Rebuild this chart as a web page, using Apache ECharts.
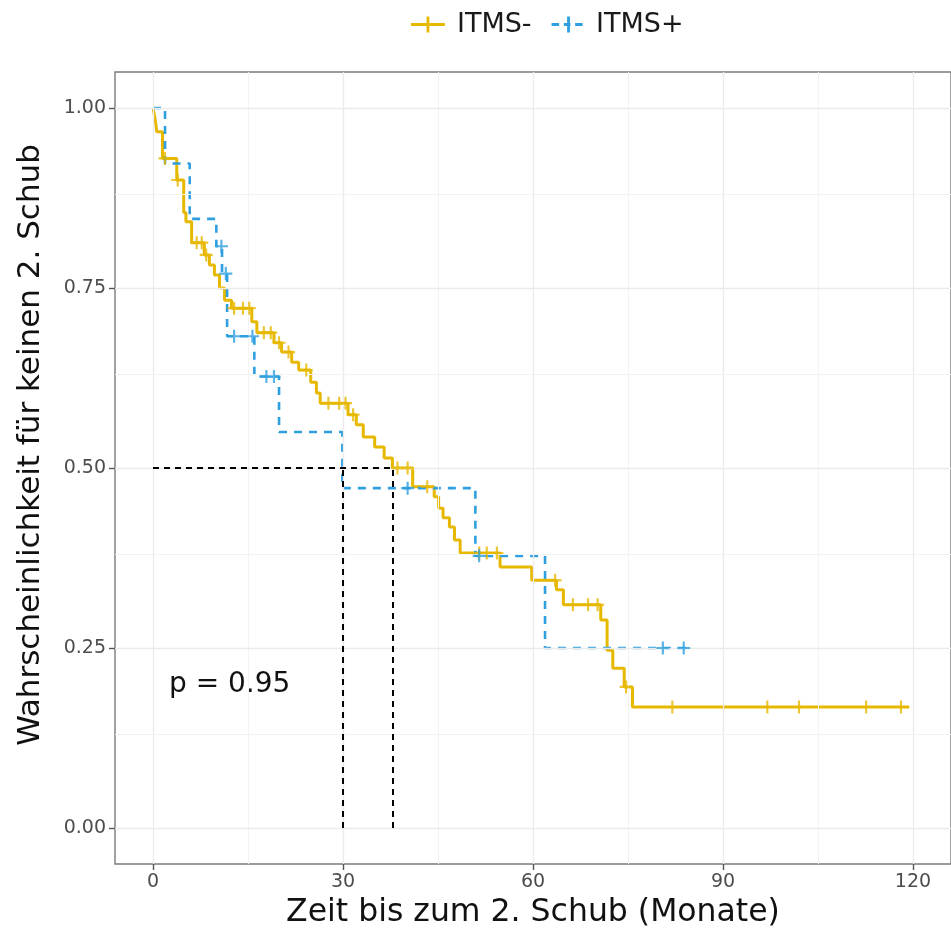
<!DOCTYPE html>
<html>
<head>
<meta charset="utf-8">
<script src="https://cdn.jsdelivr.net/npm/echarts@6/dist/echarts.min.js"></script>
<style>
html,body{margin:0;padding:0;background:#fff;}
#chart{width:951px;height:935px;}
</style>
</head>
<body>
<div id="chart"></div>
<script>
// ---- data ----
const seriesNames = ['ITMS-', 'ITMS+'];
// ITMS- Kaplan-Meier steps: time (months) and survival after the step
const negTimes = [0, 0.3, 0.6, 1.5, 3.75, 4.85, 5.2, 6.1, 8.1, 8.9, 9.7, 10.5, 11.3, 12.4, 15.6, 16.4, 19.1, 20.3, 21.9, 23.0, 24.9, 25.8, 26.4, 30.8, 32.1, 33.2, 35.0, 36.5, 37.8, 41.0, 44.4, 45.1, 45.8, 46.8, 47.6, 48.5, 54.8, 59.8, 63.7, 64.8, 70.7, 71.7, 72.6, 74.4, 75.7, 119.4];
const negSurv  = [1.0, 0.987, 0.967, 0.93, 0.90, 0.855, 0.842, 0.813, 0.796, 0.782, 0.768, 0.75, 0.733, 0.722, 0.703, 0.688, 0.674, 0.661, 0.647, 0.636, 0.619, 0.604, 0.59, 0.574, 0.56, 0.543, 0.529, 0.514, 0.50, 0.474, 0.46, 0.444, 0.431, 0.418, 0.40, 0.382, 0.3625, 0.344, 0.331, 0.31, 0.289, 0.247, 0.222, 0.196, 0.168, 0.168];
const negCensor = [1.9, 3.9, 6.9, 7.7, 8.4, 12.8, 14.2, 15.2, 17.5, 18.6, 19.9, 21.4, 24.2, 27.7, 29.4, 30.4, 31.6, 38.6, 40.2, 43.3, 51.5, 52.7, 54.3, 63.5, 66.3, 68.7, 70.2, 74.7, 82.0, 97.0, 102.0, 112.6, 118.1];
// ITMS+ Kaplan-Meier steps
const posTimes = [0, 1.9, 5.8, 10.0, 10.9, 11.7, 16.0, 19.9, 29.9, 50.9, 61.9, 84.6];
const posSurv  = [1.0, 0.923, 0.846, 0.808, 0.77, 0.683, 0.627, 0.55, 0.472, 0.378, 0.25, 0.25];
const posCensor = [10.8, 11.5, 12.8, 15.7, 17.9, 19.1, 40.2, 51.5, 80.5, 83.8];
// median lines
const medianLevel = 0.5;
const medianTimes = [29.9, 37.8];
const pText = 'p = 0.95';
const xTitle = 'Zeit bis zum 2. Schub (Monate)';
const yTitle = 'Wahrscheinlichkeit für keinen 2. Schub';
// axis ticks
const xTicks = [0, 30, 60, 90, 120];
const xMinor = [15, 45, 75, 105];
const yTicks = [0, 0.25, 0.5, 0.75, 1.0];
const yMinor = [0.125, 0.375, 0.625, 0.875];

const colors = ['#E7B800', '#2E9FDF'];

function stepValue(times, surv, t) {
  let v = surv[0];
  for (let i = 0; i < times.length; i++) { if (times[i] <= t) v = surv[i]; }
  return v;
}
const negLine = negTimes.map((t, i) => [t, negSurv[i]]);
const posLine = posTimes.map((t, i) => [t, posSurv[i]]);
const negPts = negCensor.map(t => [t, stepValue(negTimes, negSurv, t)]);
const posPts = posCensor.map(t => [t, stepValue(posTimes, posSurv, t)]);

const XMIN = -6, XMAX = 126, YMIN = -0.05, YMAX = 1.05;
const gridLines = [];
xTicks.forEach(v => gridLines.push({xAxis: v, lineStyle: {color: '#EBEBEB', width: 1.3, type: 'solid'}}));
xMinor.forEach(v => gridLines.push({xAxis: v, lineStyle: {color: '#F3F3F3', width: 1, type: 'solid'}}));
yTicks.forEach(v => gridLines.push({yAxis: v, lineStyle: {color: '#EBEBEB', width: 1.3, type: 'solid'}}));
yMinor.forEach(v => gridLines.push({yAxis: v, lineStyle: {color: '#F3F3F3', width: 1, type: 'solid'}}));

const medianSegs = [
  [{coord: [0, medianLevel]}, {coord: [medianTimes[1], medianLevel]}],
  [{coord: [medianTimes[0], 0]}, {coord: [medianTimes[0], medianLevel]}],
  [{coord: [medianTimes[1], 0]}, {coord: [medianTimes[1], medianLevel]}]
];

const crossPath = 'path://M0,5h12v2h-12z M5,0h2v12h-2z';
const legendNeg = 'path://M0,7h36v3h-36z M16.5,0h3v17h-3z';
const legendPos = 'path://M0,7h8v3h-8z M13,7h7v3h-7z M25,7h8v3h-8z M16.5,0h3v17h-3z';

const font = 'DejaVu Sans';
const chart = echarts.init(document.getElementById('chart'), null, {renderer: 'canvas'});
chart.setOption({
  animation: false,
  backgroundColor: '#fff',
  textStyle: {fontFamily: font},
  legend: {
    top: 6, left: 406, itemGap: 20, itemWidth: 36, itemHeight: 16,
    textStyle: {fontSize: 27, color: '#1a1a1a', fontFamily: font, padding: [0, 0, 0, 6]},
    data: [
      {name: seriesNames[0], icon: legendNeg, itemStyle: {color: colors[0]}},
      {name: seriesNames[1], icon: legendPos, itemStyle: {color: colors[1]}}
    ]
  },
  grid: {left: 115, top: 72, width: 843, height: 792, show: true, borderColor: '#7a7a7a', borderWidth: 1.4, backgroundColor: '#fff', containLabel: false},
  xAxis: {
    type: 'value', min: XMIN, max: XMAX,
    name: xTitle, nameLocation: 'middle', nameGap: 31,
    nameTextStyle: {fontSize: 31.5, color: '#111', fontFamily: font},
    axisLine: {show: false, onZero: false},
    axisTick: {show: true, customValues: xTicks, length: 6, lineStyle: {color: '#555', width: 1.4}},
    axisLabel: {customValues: xTicks, fontSize: 19, color: '#4D4D4D', margin: 9, fontFamily: font},
    splitLine: {show: false}
  },
  yAxis: {
    type: 'value', min: YMIN, max: YMAX,
    axisLine: {show: false, onZero: false},
    axisTick: {show: true, customValues: yTicks, length: 6, lineStyle: {color: '#555', width: 1.4}},
    axisLabel: {customValues: yTicks, fontSize: 19, color: '#4D4D4D', margin: 9, fontFamily: font, formatter: v => v.toFixed(2)},
    splitLine: {show: false}
  },
  series: [
    {
      type: 'line', data: [], silent: true, z: 0,
      markLine: {silent: true, symbol: 'none', label: {show: false}, data: gridLines, animation: false}
    },
    {
      name: seriesNames[0], type: 'line', step: 'end', data: negLine, showSymbol: false, z: 3,
      lineStyle: {color: colors[0], width: 3}, itemStyle: {color: colors[0]}
    },
    {
      name: seriesNames[1], type: 'line', step: 'end', data: posLine, showSymbol: false, z: 4,
      lineStyle: {color: colors[1], width: 2.6, type: [8, 7]}, itemStyle: {color: colors[1]}
    },
    {
      name: seriesNames[0], type: 'scatter', data: negPts, symbol: crossPath, symbolSize: 13, z: 5,
      itemStyle: {color: colors[0]}
    },
    {
      name: seriesNames[1], type: 'scatter', data: posPts, symbol: crossPath, symbolSize: 13, z: 6,
      itemStyle: {color: colors[1]}
    },
    {
      type: 'line', data: [], silent: true, z: 7,
      markLine: {silent: true, symbol: 'none', label: {show: false}, animation: false,
        lineStyle: {color: '#000', width: 2, type: [6, 5]}, data: medianSegs}
    }
  ],
  graphic: [
    {type: 'text', left: 169, top: 671, style: {text: pText, fontSize: 28, fill: '#111', fontFamily: font}},
    {type: 'text', x: 31, y: 445, rotation: Math.PI / 2,
      style: {text: yTitle, fontSize: 31, fill: '#111', fontFamily: font, align: 'center', verticalAlign: 'middle'}}
  ]
});
</script>
</body>
</html>
